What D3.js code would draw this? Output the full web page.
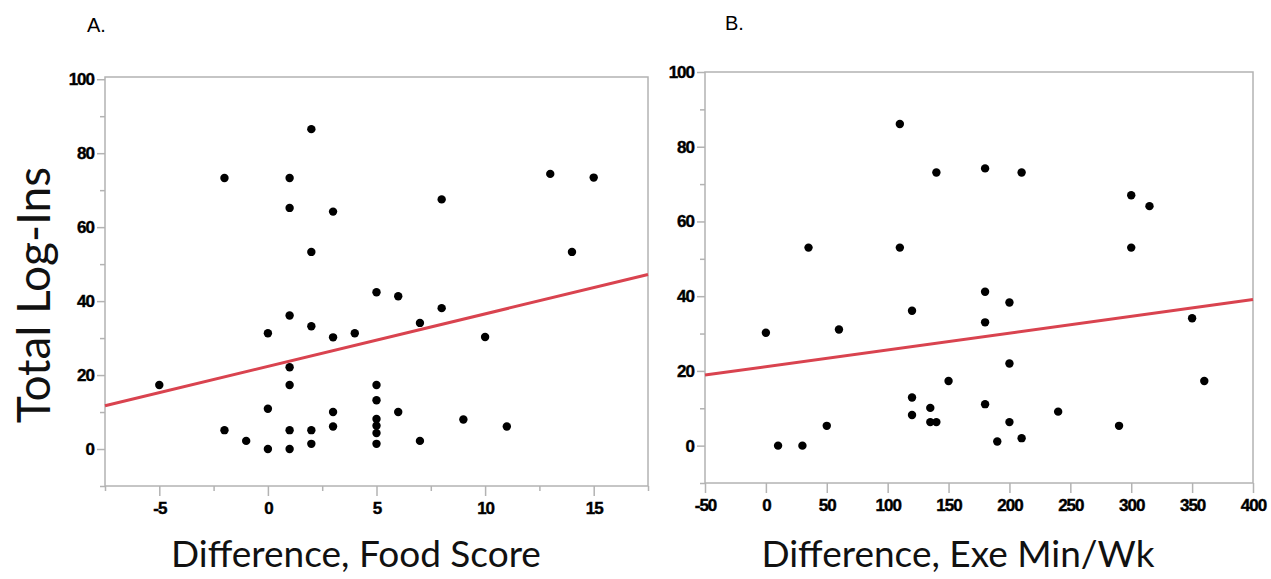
<!DOCTYPE html>
<html>
<head>
<meta charset="utf-8">
<script src="https://cdn.jsdelivr.net/npm/d3@7"></script>
<style>
  html, body { margin: 0; padding: 0; background: #fff; }
  svg { display: block; }
</style>
</head>
<body>
<svg id="chart" width="1271" height="579"></svg>
<script>
// ---------- data ----------
const panelTitles = ["A.", "B."];
const yLabel = "Total Log-Ins";
const xLabels = ["Difference, Food Score", "Difference, Exe Min/Wk"];

const foodX = [-5, -2, -2, -1, 0, 0, 0, 1, 1, 1, 1, 1, 1, 1, 2, 2, 2, 2, 2, 3, 3, 3, 3, 4,
               5, 5, 5, 5, 5, 5, 5, 6, 6, 7, 7, 8, 8, 9, 10, 11, 13, 14, 15];
const foodY = [17.3, 73.3, 5.1, 2.2, 31.3, 10.9, 0, 73.3, 65.2, 36.1, 22.1, 17.3, 5.1, 0, 86.5, 53.3, 33.2, 5.1, 1.4, 64.2, 30.2, 10, 6.1, 31.3,
               42.4, 17.3, 13.2, 8.1, 6.3, 4.3, 1.4, 41.3, 10, 34.1, 2.2, 67.5, 38.1, 8, 30.3, 6.1, 74.4, 53.3, 73.4];

const exeX = [0, 10, 30, 35, 50, 60, 110, 110, 120, 120, 120, 140, 135, 135, 140, 150,
              180, 210, 300, 315, 300, 180, 200, 180, 350, 200, 360, 180, 240, 200, 290, 190, 210];
const exeY = [30.2, 0, 0, 53.0, 5.3, 31.1, 86.1, 53.0, 36.1, 12.9, 8.2, 73.1, 10.1, 6.3, 6.3, 17.3,
              74.2, 73.1, 67.0, 64.1, 53.0, 41.2, 38.3, 33.0, 34.1, 22.0, 17.3, 11.1, 9.1, 6.3, 5.3, 1.1, 2.0];

const fitFoodX = [-7.5, 17.5], fitFoodY = [11.7, 47.2];
const fitExeX = [-50, 400], fitExeY = [18.9, 39.1];

const foodMajorTicks = [-5, 0, 5, 10, 15];
const foodMinorTicks = [-7.5, -2.5, 2.5, 7.5, 12.5, 17.5];
const exeMajorTicks = [-50, 0, 50, 100, 150, 200, 250, 300, 350, 400];
const yMajorTicks = [0, 20, 40, 60, 80, 100];
const yMinorTicks = [-10, 10, 30, 50, 70, 90];

// ---------- drawing ----------
const svg = d3.select("#chart");
const frameColor = "#b3b3b3";
const lineColor = "#d9434f";
const tickFont = "'Liberation Sans', Arial, sans-serif";
const labelFont = "Lato, 'Open Sans', sans-serif";
const fmt = d => String(d);

const panels = [
  { xs: foodX, ys: foodY, fx: fitFoodX, fy: fitFoodY,
    xDomain: [-7.5, 17.5], xRange: [105, 648], yDomain: [-10, 100.6], yRange: [486, 77],
    xMajor: foodMajorTicks, xMinor: foodMinorTicks,
    title: panelTitles[0], titleX: 87, titleY: 32,
    xLabel: xLabels[0], xLabelX: 356 },
  { xs: exeX, ys: exeY, fx: fitExeX, fy: fitExeY,
    xDomain: [-50, 400], xRange: [705, 1253], yDomain: [-10, 100], yRange: [483, 72],
    xMajor: exeMajorTicks, xMinor: [],
    title: panelTitles[1], titleX: 725, titleY: 30,
    xLabel: xLabels[1], xLabelX: 958 }
];

panels.forEach(p => {
  const x = d3.scaleLinear().domain(p.xDomain).range(p.xRange);
  const y = d3.scaleLinear().domain(p.yDomain).range(p.yRange);
  const g = svg.append("g");

  g.append("g").attr("transform", `translate(${p.xRange[0]},0)`)
    .call(d3.axisLeft(y).tickValues(yMajorTicks).tickSize(8).tickPadding(3).tickFormat(fmt));
  g.append("g").attr("transform", `translate(${p.xRange[0]},0)`)
    .call(d3.axisLeft(y).tickValues(yMinorTicks).tickSize(5).tickFormat(""));
  g.append("g").attr("transform", `translate(0,${p.yRange[0]})`)
    .call(d3.axisBottom(x).tickValues(p.xMajor).tickSize(10).tickPadding(6).tickFormat(fmt));
  if (p.xMinor.length) {
    g.append("g").attr("transform", `translate(0,${p.yRange[0]})`)
      .call(d3.axisBottom(x).tickValues(p.xMinor).tickSize(5).tickFormat(""));
  }
  g.selectAll(".domain").remove();
  g.selectAll(".tick line").attr("stroke", frameColor).attr("stroke-width", 1.5);
  g.selectAll(".tick text")
    .attr("fill", "#000")
    .attr("stroke", "#000").attr("stroke-width", 0.4)
    .style("font-family", tickFont)
    .style("font-weight", "bold")
    .style("font-size", "17px")
    .style("letter-spacing", "-1px");

  g.append("rect")
    .attr("x", p.xRange[0]).attr("y", p.yRange[1])
    .attr("width", p.xRange[1] - p.xRange[0])
    .attr("height", p.yRange[0] - p.yRange[1])
    .attr("fill", "none").attr("stroke", frameColor).attr("stroke-width", 1.5);

  const fitPts = p.fx.map((v, i) => [v, p.fy[i]]);
  g.append("path")
    .datum(fitPts)
    .attr("d", d3.line().x(d => x(d[0])).y(d => y(d[1])))
    .attr("fill", "none").attr("stroke", lineColor).attr("stroke-width", 3);

  const pts = p.xs.map((v, i) => [v, p.ys[i]]);
  g.append("g").selectAll("circle").data(pts).join("circle")
    .attr("cx", d => x(d[0])).attr("cy", d => y(d[1]))
    .attr("r", 4.2).attr("fill", "#000");

  svg.append("text").attr("x", p.titleX).attr("y", p.titleY)
    .text(p.title)
    .style("font-family", "'Liberation Sans', Arial, sans-serif")
    .style("font-size", "20px").attr("fill", "#000");

  svg.append("text").attr("x", p.xLabelX).attr("y", 567)
    .attr("text-anchor", "middle")
    .text(p.xLabel)
    .style("font-family", labelFont)
    .style("font-size", "37px").attr("fill", "#111");
});

svg.append("text")
  .attr("transform", "translate(50,295) rotate(-90)")
  .attr("text-anchor", "middle")
  .text(yLabel)
  .style("font-family", labelFont)
  .style("font-size", "46px").attr("fill", "#111");
</script>
</body>
</html>
